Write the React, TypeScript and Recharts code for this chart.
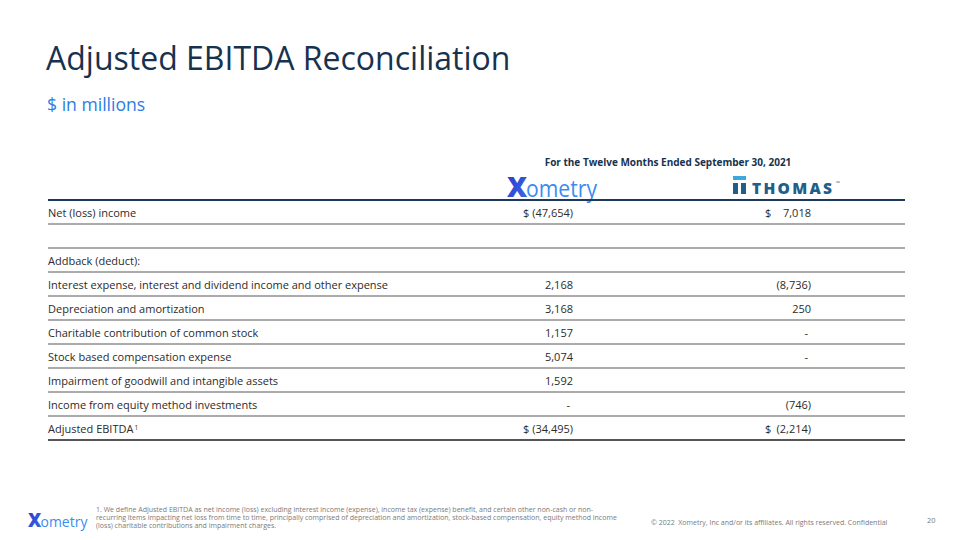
import React from "react";
import { ScatterChart, Scatter, XAxis, YAxis, ReferenceLine } from "recharts";

const rowLabels = [
  "Net (loss) income",
  "",
  "Addback (deduct):",
  "Interest expense, interest and dividend income and other expense",
  "Depreciation and amortization",
  "Charitable contribution of common stock",
  "Stock based compensation expense",
  "Impairment of goodwill and intangible assets",
  "Income from equity method investments",
  "Adjusted EBITDA",
];
const xometryValues = [-47654, null, null, 2168, 3168, 1157, 5074, 1592, 0, -34495];
const thomasValues = [7018, null, null, -8736, 250, 0, 0, null, -746, -2214];
const dollarRows = [0, 9];
const footnoteRows = [9];

const footnoteLines = [
  "1. We define Adjusted EBITDA as net income (loss) excluding interest income (expense), income tax (expense) benefit, and certain other non-cash or non-",
  "recurring items impacting net loss from time to time, principally comprised of depreciation and amortization, stock-based compensation, equity method income",
  "(loss) charitable contributions and impairment charges.",
];

const FONT = "'Open Sans', 'Noto Sans', sans-serif";
const NAVY = "#17324f";
const TEXT = "#2b2b2b";

// column anchors in plot units (plot is 857px wide)
const COL_LABEL = 0;
const COL_XOMETRY = 525;
const COL_THOMAS_DOLLAR = 717;
const COL_THOMAS = 763;

const fmt = (v: number | null) => {
  if (v === null) return "";
  if (v === 0) return "-";
  const s = Math.abs(v).toLocaleString("en-US");
  return v < 0 ? `(${s})` : s;
};

const labelPoints = rowLabels.map((t, i) => ({
  x: COL_LABEL,
  y: i + 0.5,
  text: t,
  note: footnoteRows.includes(i),
}));
const xometryPoints = xometryValues.map((v, i) => ({
  x: COL_XOMETRY,
  y: i + 0.5,
  text: (dollarRows.includes(i) ? "$ " : "") + fmt(v),
  dash: v === 0,
}));
const thomasPoints = thomasValues.map((v, i) => ({
  x: COL_THOMAS,
  y: i + 0.5,
  text: fmt(v),
  dash: v === 0,
}));
const thomasDollarPoints = dollarRows.map((i) => ({
  x: COL_THOMAS_DOLLAR,
  y: i + 0.5,
  text: "$",
}));
const borders = Array.from({ length: rowLabels.length + 1 }, (_, i) => i);

const cellShape = (anchor: "start" | "end") => (props: any) => {
  const { cx, cy, payload } = props;
  return (
    <text
      x={cx}
      y={cy}
      dx={payload.dash ? -3 : 0}
      textAnchor={anchor}
      dominantBaseline="central"
      fontFamily={FONT}
      fontSize={11}
      fill={TEXT}
    >
      {payload.text}
      {payload.note && (
        <tspan fontSize={6.5} dx={1} dy={-1}>
          1
        </tspan>
      )}
    </text>
  );
};

const XometryLogo = ({ x, y, scale }: { x: number; y: number; scale: number }) => (
  <svg
    style={{ position: "absolute", left: x, top: y, overflow: "visible" }}
    width={92 * scale}
    height={28 * scale}
    viewBox="0 0 92 28"
  >
    <defs>
      <linearGradient id={`xg${x}`} x1="0" y1="0" x2="1" y2="1">
        <stop offset="0" stopColor="#2a35c8" />
        <stop offset="1" stopColor="#3d6ee8" />
      </linearGradient>
    </defs>
    <text x={0} y={22} fontFamily={FONT} fontWeight={800} fontSize={28} fill={`url(#xg${x})`}>
      X
    </text>
    <text
      x={19}
      y={22}
      fontFamily={FONT}
      fontWeight={500}
      fontSize={23}
      fill="#3c8cf0"
      textLength={71}
      lengthAdjust="spacingAndGlyphs"
    >
      ometry
    </text>
  </svg>
);

const ThomasLogo = () => (
  <svg style={{ position: "absolute", left: 732, top: 175, overflow: "visible" }} width={112} height={22}>
    <rect x={1} y={1} width={13} height={4} fill="#3aa9de" />
    <rect x={1} y={8} width={5} height={11} fill="#215e88" />
    <rect x={9} y={8} width={5} height={11} fill="#215e88" />
    <text
      x={20}
      y={19}
      fontFamily={FONT}
      fontWeight={800}
      fontSize={15.5}
      fill="#215e88"
      textLength={80}
      lengthAdjust="spacing"
    >
      THOMAS
    </text>
    <text x={104} y={10} fontFamily={FONT} fontSize={5} fill="#215e88">
      ™
    </text>
  </svg>
);

export default function App() {
  return (
    <div
      style={{
        position: "absolute",
        left: 0,
        top: 0,
        width: 960,
        height: 540,
        background: "#fff",
        fontFamily: FONT,
        overflow: "hidden",
      }}
    >
      <div style={{ position: "absolute", left: 46, top: 36, fontSize: 32, color: NAVY, whiteSpace: "nowrap" }}>
        Adjusted EBITDA Reconciliation
      </div>
      <div style={{ position: "absolute", left: 47, top: 92, fontSize: 17.6, color: "#2b7de3", whiteSpace: "nowrap" }}>
        $ in millions
      </div>
      <div
        style={{
          position: "absolute",
          left: 540,
          top: 155,
          width: 256,
          textAlign: "center",
          fontSize: 10,
          fontWeight: 700,
          color: NAVY,
          whiteSpace: "nowrap",
        }}
      >
        For the Twelve Months Ended September 30, 2021
      </div>
      <XometryLogo x={507} y={175} scale={1} />
      <ThomasLogo />

      <div style={{ position: "absolute", left: 0, top: 0 }}>
        <ScatterChart width={960} height={540} margin={{ top: 200, right: 55, bottom: 100, left: 48 }}>
          <XAxis type="number" dataKey="x" domain={[0, 857]} hide />
          <YAxis type="number" dataKey="y" domain={[0, rowLabels.length]} reversed hide />
          {borders.map((b) => (
            <ReferenceLine
              key={b}
              y={b}
              ifOverflow="visible"
              stroke={b === 0 ? "#1d3a5c" : b === rowLabels.length ? "#1e1e1e" : "#8f8f8f"}
              strokeWidth={b === 0 ? 2 : 1.5}
            />
          ))}
          <Scatter data={labelPoints} shape={cellShape("start")} isAnimationActive={false} />
          <Scatter data={xometryPoints} shape={cellShape("end")} isAnimationActive={false} />
          <Scatter data={thomasDollarPoints} shape={cellShape("start")} isAnimationActive={false} />
          <Scatter data={thomasPoints} shape={cellShape("end")} isAnimationActive={false} />
        </ScatterChart>
      </div>

      <XometryLogo x={28} y={512} scale={0.66} />
      <div
        style={{
          position: "absolute",
          left: 96,
          top: 506,
          fontSize: 7,
          lineHeight: "8px",
          color: "#7a7a7a",
          whiteSpace: "nowrap",
        }}
      >
        {footnoteLines.map((l) => (
          <div key={l}>{l}</div>
        ))}
      </div>
      <div style={{ position: "absolute", left: 651, top: 518, fontSize: 7, color: "#7a7a7a", whiteSpace: "pre" }}>
        © 2022  Xometry, Inc and/or its affiliates. All rights reserved. Confidential
      </div>
      <div style={{ position: "absolute", left: 927, top: 515, fontSize: 7.5, color: "#7a7a7a" }}>20</div>
    </div>
  );
}
